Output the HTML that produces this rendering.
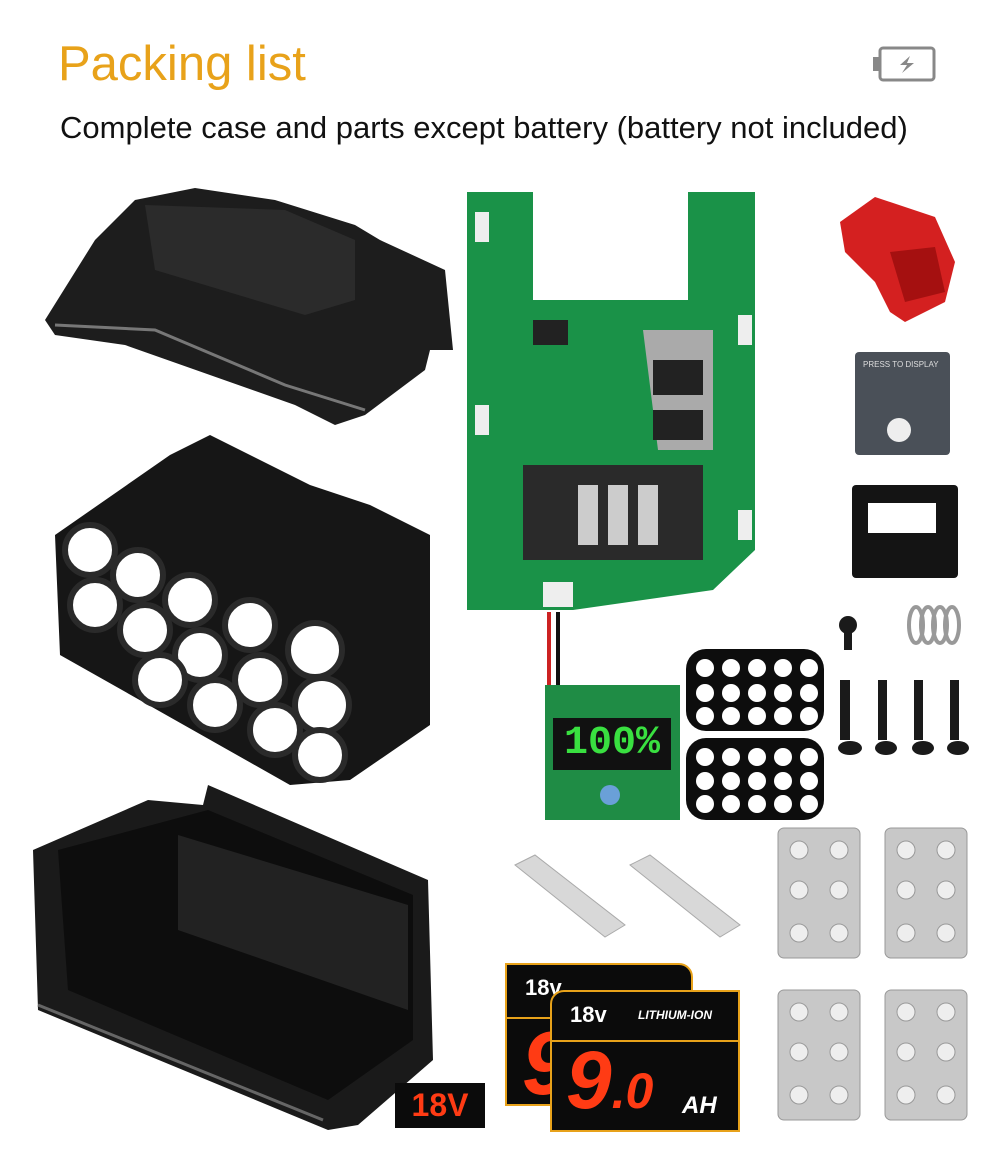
<!DOCTYPE html>
<html><head><meta charset="utf-8"><style>
body{margin:0;background:#fff;}
#w{position:relative;width:1000px;height:1159px;overflow:hidden;background:#fff;font-family:"Liberation Sans",sans-serif;}
.a{position:absolute;}
</style></head><body><div id="w">
<div class="a" style="left:58px;top:36px;font-size:49px;color:#e8a21a;">Packing list</div>
<div class="a" style="left:60px;top:110px;font-size:31px;color:#111;">Complete case and parts except battery (battery not included)</div>
<svg class="a" style="left:870px;top:44px" width="70" height="40"><rect x="10" y="4" width="54" height="32" rx="3" fill="none" stroke="#888" stroke-width="3"/><rect x="3" y="13" width="6" height="14" fill="#888"/><path d="M40 12 L30 21 L37 21 L32 29 L44 19 L37 19 Z" fill="#888"/></svg>

<svg class="a" style="left:35px;top:180px" width="430" height="260">
<path d="M10 140 L60 60 L100 20 L160 8 L240 20 L320 45 L345 60 L410 90 L418 170 L395 170 L390 190 L330 235 L300 245 L260 225 L90 165 L20 155 Z" fill="#1d1d1d"/>
<path d="M110 25 L250 30 L320 60 L320 120 L270 135 L120 90 Z" fill="#2b2b2b"/>
<path d="M20 145 L120 150 L250 205 L330 230" stroke="#777" stroke-width="3" fill="none"/>
</svg>

<svg class="a" style="left:50px;top:425px" width="390" height="370">
<path d="M5 110 L120 30 L160 10 L260 60 L320 80 L380 110 L380 300 L300 355 L240 360 L10 230 Z" fill="#161616"/>
<g fill="#fff" stroke="#2a2a2a" stroke-width="6">
<circle cx="40" cy="125" r="25"/><circle cx="88" cy="150" r="25"/><circle cx="140" cy="175" r="25"/><circle cx="200" cy="200" r="25"/><circle cx="265" cy="225" r="27"/>
<circle cx="45" cy="180" r="25"/><circle cx="95" cy="205" r="25"/><circle cx="150" cy="230" r="25"/><circle cx="210" cy="255" r="25"/><circle cx="272" cy="280" r="27"/>
<circle cx="110" cy="255" r="25"/><circle cx="165" cy="280" r="25"/><circle cx="225" cy="305" r="25"/><circle cx="270" cy="330" r="25"/>
</g>
</svg>

<svg class="a" style="left:28px;top:780px" width="415" height="360">
<path d="M5 70 L120 20 L175 25 L180 5 L400 100 L405 280 L330 345 L300 350 L10 230 Z" fill="#1a1a1a"/>
<path d="M30 70 L180 30 L385 115 L385 260 L300 320 L40 210 Z" fill="#0d0d0d"/>
<path d="M150 55 L380 125 L380 230 L150 150 Z" fill="#222"/>
<path d="M10 225 L295 340" stroke="#666" stroke-width="3"/>
</svg>

<svg class="a" style="left:463px;top:190px" width="300" height="425">
<path d="M4 2 L70 2 L70 110 L225 110 L225 2 L292 2 L292 360 L250 400 L110 420 L4 420 Z" fill="#1a9248"/>
<path d="M180 140 L250 140 L250 260 L195 260 Z" fill="#aaa"/>
<rect x="60" y="275" width="180" height="95" fill="#2a2a2a"/>
<g fill="#ccc"><rect x="115" y="295" width="20" height="60"/><rect x="145" y="295" width="20" height="60"/><rect x="175" y="295" width="20" height="60"/></g>
<rect x="70" y="130" width="35" height="25" fill="#222"/>
<rect x="190" y="170" width="50" height="35" fill="#222"/><rect x="190" y="220" width="50" height="30" fill="#222"/>
<g fill="#eee"><rect x="12" y="22" width="14" height="30"/><rect x="275" y="125" width="14" height="30"/><rect x="12" y="215" width="14" height="30"/><rect x="275" y="320" width="14" height="30"/><rect x="80" y="392" width="30" height="25"/></g>
</svg>
<div class="a" style="left:547px;top:612px;width:4px;height:75px;background:#c22;"></div>
<div class="a" style="left:556px;top:612px;width:4px;height:75px;background:#111;"></div>

<div class="a" style="left:545px;top:685px;width:135px;height:135px;background:#1f8c45;"></div>
<div class="a" style="left:553px;top:718px;width:118px;height:52px;background:#111;color:#39e040;font-family:'Liberation Mono',monospace;font-size:40px;font-weight:bold;line-height:52px;text-align:center;">100%</div>
<div class="a" style="left:600px;top:785px;width:20px;height:20px;border-radius:50%;background:#6aa0d8;"></div>

<svg class="a" style="left:835px;top:192px" width="125" height="135"><path d="M5 30 L40 5 L100 25 L120 70 L110 110 L70 130 L55 120 L40 90 L10 60 Z" fill="#d42020"/><path d="M55 60 L100 55 L110 100 L70 110 Z" fill="#a51010"/></svg>
<div class="a" style="left:855px;top:352px;width:95px;height:103px;background:#4a5058;border-radius:4px;"><div style="font-size:8px;color:#ddd;margin:8px 0 0 8px;">PRESS TO DISPLAY</div><div style="position:absolute;left:32px;top:66px;width:24px;height:24px;border-radius:50%;background:#eee;"></div></div>
<div class="a" style="left:852px;top:485px;width:106px;height:93px;background:#141414;border-radius:4px;"><div style="position:absolute;left:16px;top:18px;width:68px;height:30px;background:#fff;"></div></div>

<svg class="a" style="left:683px;top:646px" width="145" height="176">
<g fill="#0d0d0d"><rect x="3" y="3" width="138" height="82" rx="20"/><rect x="3" y="92" width="138" height="82" rx="20"/></g>
<g fill="#fff">
<circle cx="22" cy="22" r="9"/><circle cx="48" cy="22" r="9"/><circle cx="74" cy="22" r="9"/><circle cx="100" cy="22" r="9"/><circle cx="126" cy="22" r="9"/>
<circle cx="22" cy="47" r="9"/><circle cx="48" cy="47" r="9"/><circle cx="74" cy="47" r="9"/><circle cx="100" cy="47" r="9"/><circle cx="126" cy="47" r="9"/>
<circle cx="22" cy="70" r="9"/><circle cx="48" cy="70" r="9"/><circle cx="74" cy="70" r="9"/><circle cx="100" cy="70" r="9"/><circle cx="126" cy="70" r="9"/>
<circle cx="22" cy="111" r="9"/><circle cx="48" cy="111" r="9"/><circle cx="74" cy="111" r="9"/><circle cx="100" cy="111" r="9"/><circle cx="126" cy="111" r="9"/>
<circle cx="22" cy="135" r="9"/><circle cx="48" cy="135" r="9"/><circle cx="74" cy="135" r="9"/><circle cx="100" cy="135" r="9"/><circle cx="126" cy="135" r="9"/>
<circle cx="22" cy="158" r="9"/><circle cx="48" cy="158" r="9"/><circle cx="74" cy="158" r="9"/><circle cx="100" cy="158" r="9"/><circle cx="126" cy="158" r="9"/>
</g></svg>

<svg class="a" style="left:828px;top:605px" width="150" height="160">
<g fill="#1a1a1a"><circle cx="20" cy="20" r="9"/><rect x="16" y="20" width="8" height="25"/>
<rect x="12" y="75" width="10" height="60"/><ellipse cx="22" cy="143" rx="12" ry="7"/>
<rect x="50" y="75" width="9" height="60"/><ellipse cx="58" cy="143" rx="11" ry="7"/>
<rect x="86" y="75" width="9" height="60"/><ellipse cx="95" cy="143" rx="11" ry="7"/>
<rect x="122" y="75" width="9" height="60"/><ellipse cx="130" cy="143" rx="11" ry="7"/></g>
<g fill="none" stroke="#999" stroke-width="4"><ellipse cx="88" cy="20" rx="7" ry="18"/><ellipse cx="100" cy="20" rx="7" ry="18"/><ellipse cx="112" cy="20" rx="7" ry="18"/><ellipse cx="124" cy="20" rx="7" ry="18"/></g>
</svg>

<svg class="a" style="left:505px;top:845px" width="240" height="100">
<g fill="#d8d8d8" stroke="#aaa"><path d="M10 20 L30 10 L120 80 L100 92 Z"/><path d="M125 20 L145 10 L235 80 L215 92 Z"/></g>
</svg>

<svg class="a" style="left:775px;top:825px" width="200" height="305">
<g fill="#c8c8c8" stroke="#999"><rect x="3" y="3" width="82" height="130" rx="6"/><rect x="110" y="3" width="82" height="130" rx="6"/><rect x="3" y="165" width="82" height="130" rx="6"/><rect x="110" y="165" width="82" height="130" rx="6"/></g>
<g fill="#eee" stroke="#999">
<circle cx="24" cy="25" r="9"/><circle cx="64" cy="25" r="9"/><circle cx="24" cy="65" r="9"/><circle cx="64" cy="65" r="9"/><circle cx="24" cy="108" r="9"/><circle cx="64" cy="108" r="9"/>
<circle cx="131" cy="25" r="9"/><circle cx="171" cy="25" r="9"/><circle cx="131" cy="65" r="9"/><circle cx="171" cy="65" r="9"/><circle cx="131" cy="108" r="9"/><circle cx="171" cy="108" r="9"/>
<circle cx="24" cy="187" r="9"/><circle cx="64" cy="187" r="9"/><circle cx="24" cy="227" r="9"/><circle cx="64" cy="227" r="9"/><circle cx="24" cy="270" r="9"/><circle cx="64" cy="270" r="9"/>
<circle cx="131" cy="187" r="9"/><circle cx="171" cy="187" r="9"/><circle cx="131" cy="227" r="9"/><circle cx="171" cy="227" r="9"/><circle cx="131" cy="270" r="9"/><circle cx="171" cy="270" r="9"/>
</g></svg>

<div class="a" style="left:505px;top:963px;width:188px;height:143px;background:#0b0b0b;border:2px solid #e8a21a;border-radius:0 14px 0 0;box-sizing:border-box;">
<div style="position:absolute;left:18px;top:10px;color:#fff;font-weight:bold;font-size:22px;">18v</div>
<div style="position:absolute;left:0;top:52px;width:100%;height:2px;background:#e8a21a;"></div>
<div style="position:absolute;left:15px;top:48px;color:#ff3b14;font-weight:bold;font-style:italic;font-size:90px;">9</div></div>
<div class="a" style="left:550px;top:990px;width:190px;height:142px;background:#0b0b0b;border:2px solid #e8a21a;border-radius:14px 0 0 0;box-sizing:border-box;">
<div style="position:absolute;left:18px;top:10px;color:#fff;font-weight:bold;font-size:22px;">18v</div>
<div style="position:absolute;left:86px;top:16px;color:#fff;font-weight:bold;font-style:italic;font-size:12px;">LITHIUM-ION</div>
<div style="position:absolute;left:0;top:48px;width:100%;height:2px;background:#e8a21a;"></div>
<div style="position:absolute;left:14px;top:42px;color:#ff3b14;font-weight:bold;font-style:italic;font-size:82px;">9<span style="font-size:50px">.0</span></div>
<div style="position:absolute;left:130px;top:100px;color:#fff;font-weight:bold;font-style:italic;font-size:24px;">AH</div></div>
<div class="a" style="left:395px;top:1083px;width:90px;height:45px;background:#0b0b0b;color:#ff3b14;font-weight:bold;font-size:32px;line-height:45px;text-align:center;">18V</div>
</div></body></html>
